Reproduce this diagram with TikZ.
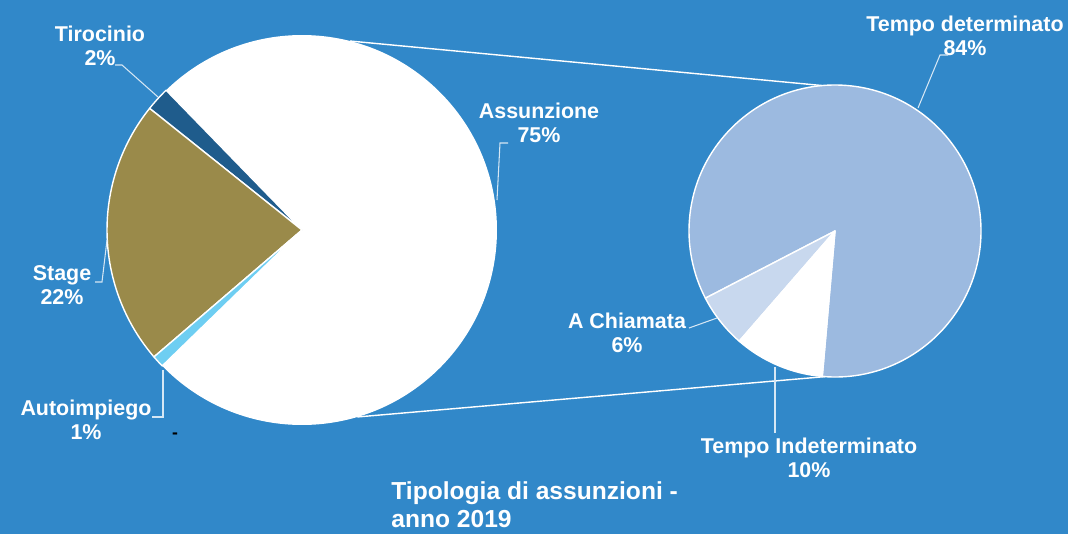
\documentclass[tikz,border=0pt]{standalone}
\usepackage{fontspec}
\setmainfont{Liberation Sans}

\definecolor{sfondo}{HTML}{3188C9}
\definecolor{tirocinio}{HTML}{1F5C8C}
\definecolor{stage}{HTML}{9A8A4A}
\definecolor{autoimp}{HTML}{6ECEF2}
\definecolor{determ}{HTML}{9CBAE0}
\definecolor{chiamata}{HTML}{C8D8EE}

\begin{document}
\begin{tikzpicture}[
    x=0.02cm, y=0.02cm,
    every node/.style={font=\bfseries\fontsize{12.2}{13.6}\selectfont, text=white},
    etichetta/.style={
        align=center,
        inner sep=0pt
    },
    fetta/.style={
        draw=white,
        line width=0.8pt,
        line join=round
    },
    guida/.style={
        draw=white!80!sfondo,
        line width=0.6pt
    },
    raccordo/.style={
        draw=white,
        line width=0.8pt
    }
]

% Sfondo
\fill[sfondo] (0,0) rectangle (1068,-534);
\useasboundingbox (0,0) rectangle (1068,-534);

% Torta principale
\coordinate (c1) at (302,-230);
\fill[white] (c1) -- ++(224.2:195) arc[start angle=224.2, end angle=494.2, radius=195] -- cycle;
\filldraw[fetta, fill=tirocinio] (c1) -- ++(134.2:195) arc[start angle=134.2, end angle=141.4, radius=195] -- cycle;
\filldraw[fetta, fill=stage] (c1) -- ++(141.4:195) arc[start angle=141.4, end angle=220.6, radius=195] -- cycle;
\filldraw[fetta, fill=autoimp] (c1) -- ++(220.6:195) arc[start angle=220.6, end angle=224.2, radius=195] -- cycle;

% Torta di dettaglio
\coordinate (c2) at (835,-231);
\filldraw[fetta, fill=determ] (c2) -- ++(265:146) arc[start angle=265, end angle=567.4, radius=146] -- cycle;
\filldraw[fetta, fill=chiamata] (c2) -- ++(207.4:146) arc[start angle=207.4, end angle=229, radius=146] -- cycle;
\filldraw[fetta, fill=white] (c2) -- ++(229:146) arc[start angle=229, end angle=265, radius=146] -- cycle;

% Raccordi tra le torte
\path (c1) ++(75.7:195) coordinate (sopra1);
\path (c1) ++(-73.5:195) coordinate (sotto1);
\path (c2) ++(95:146) coordinate (sopra2);
\path (c2) ++(266:146) coordinate (sotto2);
\draw[raccordo] (sopra1) -- (sopra2);
\draw[raccordo] (sotto1) -- (sotto2);

% Etichette
\node[etichetta] (tiro) at (100,-46) {Tirocinio\\2\%};
\node[etichetta] (stage) at (62,-285) {Stage\\22\%};
\node[etichetta] (auto) at (86,-420) {Autoimpiego\\1\%};
\node[etichetta] (assu) at (539,-123) {Assunzione\\75\%};
\node[etichetta] (deter) at (965,-36) {Tempo determinato\\84\%};
\node[etichetta] (chiam) at (627,-333) {A Chiamata\\6\%};
\node[etichetta] (indet) at (809,-458) {Tempo Indeterminato\\10\%};

% Linee guida
\coordinate (tiroA) at (115,-65);
\coordinate (tiroB) at (122,-65);
\coordinate (tiroC) at (158,-97);
\draw[guida] (tiroA) -- (tiroB) -- (tiroC);
\coordinate (stageA) at (95,-282);
\coordinate (stageB) at (102,-282);
\coordinate (stageC) at (107,-240);
\draw[guida] (stageA) -- (stageB) -- (stageC);
\coordinate (autoA) at (152,-417);
\coordinate (autoB) at (163,-417);
\coordinate (autoC) at (163,-370);
\draw[guida] (autoA) -- (autoB) -- (autoC);
\coordinate (assuA) at (508,-143);
\coordinate (assuB) at (500,-143);
\coordinate (assuC) at (497,-200);
\draw[guida] (assuA) -- (assuB) -- (assuC);
\coordinate (deterA) at (948,-55);
\coordinate (deterB) at (940,-55);
\coordinate (deterC) at (918,-108);
\draw[guida] (deterA) -- (deterB) -- (deterC);
\coordinate (chiamA) at (689,-328);
\coordinate (chiamC) at (717,-318);
\draw[guida] (chiamA) -- (chiamC);
\coordinate (indetA) at (775,-433);
\coordinate (indetC) at (775,-367);
\draw[guida] (indetA) -- (indetC);

% Segno
\node[text=black, font=\bfseries\fontsize{10}{10}\selectfont, inner sep=0pt] (segno) at (175,-436) {-};

% Titolo
\node[etichetta, align=left, anchor=north west, font=\bfseries\fontsize{14}{16.4}\selectfont] (titolo) at (391,-481) {Tipologia di assunzioni -\\anno 2019};

\end{tikzpicture}
\end{document}
